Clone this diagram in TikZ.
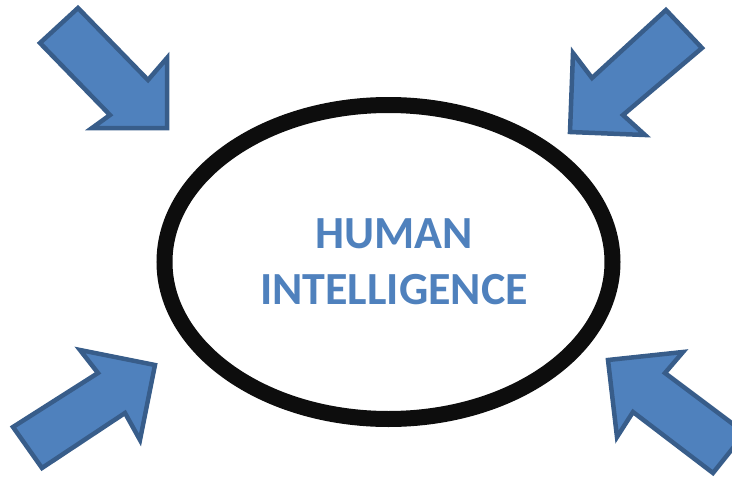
\documentclass[tikz,border=0pt]{standalone}
\usepackage{fontspec}
\usetikzlibrary{shapes.geometric}
\setmainfont{Carlito}
\definecolor{accfill}{HTML}{4F81BD}
\definecolor{accline}{HTML}{385D8A}
\begin{document}
\begin{tikzpicture}[x=1pt,y=-1pt,
  bluearrow/.style={fill=accfill,draw=accline,line width=4.5pt,line join=miter},
  ring/.style={draw=black!95,line width=16pt,ellipse,inner sep=0pt,minimum width=448pt,minimum height=314pt},
  title/.style={text=accfill,font=\fontsize{46}{56}\selectfont\bfseries,align=center}]
\useasboundingbox (0,0) rectangle (732,477);
\begin{scope}
\clip (0,0) rectangle (732,477);
% top-left arrow
\draw[bluearrow] (40,43) -- (78,8) -- (148,80) -- (167,58) -- (167,128) -- (92,128) -- (110,115) -- cycle;
% top-right arrow
\draw[bluearrow] (666,10) -- (702,48) -- (623,115) -- (645,135) -- (570,132) -- (573,53) -- (592,78) -- cycle;
% bottom-left arrow
\draw[bluearrow] (13,427) -- (42,468) -- (125,413) -- (140,440) -- (155,365) -- (80,350) -- (98,373) -- cycle;
% bottom-right arrow
\draw[bluearrow] (608,360) -- (683,352) -- (665,373) -- (745,433) -- (713,473) -- (633,412) -- (617,437) -- cycle;
\end{scope}
\node[ring] (e) at (388.5,262) {};
\node[title] (t) at (394,262) {HUMAN\\INTELLIGENCE};
\end{tikzpicture}
\end{document}
